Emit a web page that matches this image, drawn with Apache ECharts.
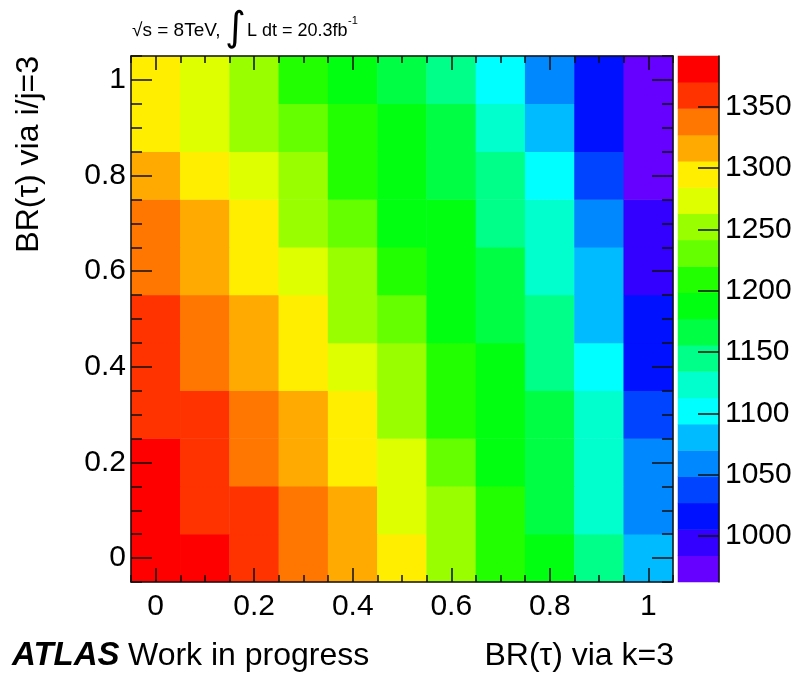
<!DOCTYPE html>
<html>
<head>
<meta charset="utf-8">
<script src="https://cdn.jsdelivr.net/npm/echarts@6/dist/echarts.min.js"></script>
<style>
html,body{margin:0;padding:0;background:#fff}
#wrap{position:relative;width:800px;height:680px}
#c,#o{position:absolute;left:0;top:0;width:800px;height:680px}
</style>
</head>
<body>
<div id="wrap"><div id="c"></div><div id="o"></div></div>
<script>
// ---- data ----
const xCategories = ['0', '0.1', '0.2', '0.3', '0.4', '0.5', '0.6', '0.7', '0.8', '0.9', '1'];
const yCategories = ['0', '0.1', '0.2', '0.3', '0.4', '0.5', '0.6', '0.7', '0.8', '0.9', '1'];
const xTickLabels = [0, 0.2, 0.4, 0.6, 0.8, 1];
const yTickLabels = [0, 0.2, 0.4, 0.6, 0.8, 1];
const colorbarTicks = [1000, 1050, 1100, 1150, 1200, 1250, 1300, 1350];
const zMin = 962.5;
const zMax = 1391.3;
const paletteColors = ['#6600ff', '#3300ff', '#0011ff', '#0044ff', '#0088ff', '#00bbff', '#00ffff', '#00ffcc', '#00ff88', '#00ff44',
  '#00ff11', '#22ff00', '#66ff00', '#99ff00', '#ddff00', '#ffee00', '#ffaa00', '#ff7700', '#ff3300', '#ff0000'];
// one array per y row (BR via i/j=3), values along x (BR via k=3)
const rowY00 = [1391, 1376, 1357, 1339, 1318, 1296, 1250, 1211, 1186, 1141, 1082];
const rowY01 = [1384, 1363, 1352, 1334, 1312, 1276, 1247, 1207, 1168, 1126, 1061];
const rowY02 = [1377, 1360, 1341, 1318, 1297, 1270, 1228, 1191, 1163, 1121, 1056];
const rowY03 = [1366, 1351, 1335, 1313, 1292, 1253, 1212, 1185, 1160, 1119, 1040];
const rowY04 = [1361, 1341, 1320, 1299, 1275, 1254, 1206, 1181, 1148, 1104, 1018];
const rowY05 = [1356, 1336, 1317, 1293, 1256, 1232, 1192, 1170, 1143, 1083, 1014];
const rowY06 = [1343, 1322, 1301, 1278, 1249, 1214, 1190, 1165, 1127, 1078, 998];
const rowY07 = [1335, 1314, 1294, 1258, 1234, 1195, 1184, 1147, 1125, 1062, 993];
const rowY08 = [1323, 1300, 1279, 1251, 1213, 1187, 1168, 1140, 1099, 1041, 979];
const rowY09 = [1298, 1281, 1255, 1236, 1210, 1189, 1163, 1129, 1084, 1020, 971];
const rowY10 = [1290, 1274, 1248, 1215, 1192, 1171, 1150, 1106, 1063, 1015, 963];
const rows = [rowY00, rowY01, rowY02, rowY03, rowY04, rowY05, rowY06, rowY07, rowY08, rowY09, rowY10];

// ---- build ----
const heatData = [];
rows.forEach((row, yi) => row.forEach((v, xi) => heatData.push([xi, yi, v])));

const nLevels = paletteColors.length;
const step = (zMax - zMin) / nLevels;
const pieces = paletteColors.map((c, k) => {
  const p = { gte: zMin + k * step, color: c };
  if (k < nLevels - 1) p.lt = zMin + (k + 1) * step; else p.lte = zMax + 1;
  return p;
});
const barCats = paletteColors.map((c, k) => String(k));
const barData = paletteColors.map((c, k) => [0, k, zMin + (k + 0.5) * step]);

const minorX = [];
for (let i = -1; i <= 21; i++) minorX.push(+(i * 0.05).toFixed(2));

const FONT = '"Liberation Sans", Arial, Helvetica, sans-serif';
const plot = { left: 131, top: 56, width: 542, height: 526 };
const bar = { left: 678, top: 56, width: 41, height: 526 };
const lbl = { color: '#000', fontSize: 30, fontFamily: FONT };
const LINE_COLOR = '#111';
const LINE_WIDTH = 1.5;

// ---- layer 1: the cells (main map + colour scale) ----
const chart = echarts.init(document.getElementById('c'), null, { renderer: 'canvas' });
chart.setOption({
  animation: false,
  backgroundColor: '#fff',
  grid: [Object.assign({}, plot), Object.assign({}, bar)],
  xAxis: [
    { type: 'category', gridIndex: 0, data: xCategories, show: false },
    { type: 'category', gridIndex: 1, data: ['z'], show: false }
  ],
  yAxis: [
    { type: 'category', gridIndex: 0, data: yCategories, show: false },
    { type: 'category', gridIndex: 1, data: barCats, show: false }
  ],
  visualMap: {
    type: 'piecewise', show: false, dimension: 2, seriesIndex: [0, 1], pieces: pieces
  },
  series: [
    { type: 'heatmap', xAxisIndex: 0, yAxisIndex: 0, data: heatData, itemStyle: { borderWidth: 0 }, emphasis: { disabled: true } },
    { type: 'heatmap', xAxisIndex: 1, yAxisIndex: 1, data: barData, itemStyle: { borderWidth: 0 }, emphasis: { disabled: true } }
  ]
});

// ---- layer 2: frame, ticks, labels and texts drawn over the cells ----
function valAxis(gridIndex, position, ticks, len, withLabels, showLine) {
  return {
    type: 'value', gridIndex, position, min: -0.05, max: 1.05,
    axisLine: { show: showLine, onZero: false, lineStyle: { color: LINE_COLOR, width: LINE_WIDTH } },
    axisTick: { show: true, inside: true, length: len, customValues: ticks, lineStyle: { color: LINE_COLOR, width: LINE_WIDTH } },
    axisLabel: withLabels ? Object.assign({ show: true, customValues: ticks, margin: position === 'bottom' ? 10 : 5 }, lbl) : { show: false },
    splitLine: { show: false }
  };
}

const overlay = echarts.init(document.getElementById('o'), null, { renderer: 'canvas' });
overlay.setOption({
  animation: false,
  backgroundColor: 'transparent',
  grid: [Object.assign({}, plot), Object.assign({}, plot), Object.assign({}, bar)],
  xAxis: [
    valAxis(0, 'bottom', xTickLabels, 14, true, true),
    valAxis(0, 'top', xTickLabels, 14, false, true),
    valAxis(1, 'bottom', minorX, 7, false, false),
    valAxis(1, 'top', minorX, 7, false, false),
    { type: 'category', gridIndex: 2, data: ['z'], show: false }
  ],
  yAxis: [
    valAxis(0, 'left', yTickLabels, 21, true, true),
    valAxis(0, 'right', yTickLabels, 21, false, true),
    valAxis(1, 'left', minorX, 11, false, false),
    valAxis(1, 'right', minorX, 11, false, false),
    {
      type: 'value', gridIndex: 2, position: 'right', min: zMin, max: zMax,
      axisLine: { show: true, lineStyle: { color: LINE_COLOR, width: LINE_WIDTH } },
      axisTick: { show: true, inside: true, length: 21, customValues: colorbarTicks, lineStyle: { color: LINE_COLOR, width: LINE_WIDTH } },
      axisLabel: Object.assign({ show: true, customValues: colorbarTicks, margin: 6, formatter: (v) => String(v) }, lbl),
      splitLine: { show: false }
    }
  ],
  series: [],
  graphic: [
    { type: 'text', x: 132, y: 31, style: { text: '√s = 8TeV,', font: '19px ' + FONT, fill: '#000', verticalAlign: 'middle' } },
    { type: 'text', x: 225, y: 30, style: { text: '∫', font: '40px "DejaVu Sans", sans-serif', fill: '#000', verticalAlign: 'middle' } },
    { type: 'text', x: 247, y: 31, style: { text: 'L dt = 20.3fb', font: '18px ' + FONT, fill: '#000', verticalAlign: 'middle' } },
    { type: 'text', x: 348, y: 21, style: { text: '-1', font: '11px ' + FONT, fill: '#000', verticalAlign: 'middle' } },
    { type: 'text', x: 29, y: 56, rotation: Math.PI / 2, style: { text: 'BR(τ) via i/j=3', font: '32px ' + FONT, fill: '#000', align: 'right', verticalAlign: 'middle' } },
    { type: 'text', x: 674, y: 656, style: { text: 'BR(τ) via k=3', font: '32px ' + FONT, fill: '#000', align: 'right', verticalAlign: 'middle' } },
    { type: 'text', x: 12, y: 656, style: { text: 'ATLAS', font: 'italic bold 33px ' + FONT, fill: '#000', verticalAlign: 'middle' } },
    { type: 'text', x: 128, y: 656, style: { text: 'Work in progress', font: '32px ' + FONT, fill: '#000', verticalAlign: 'middle' } }
  ]
});
</script>
</body>
</html>
